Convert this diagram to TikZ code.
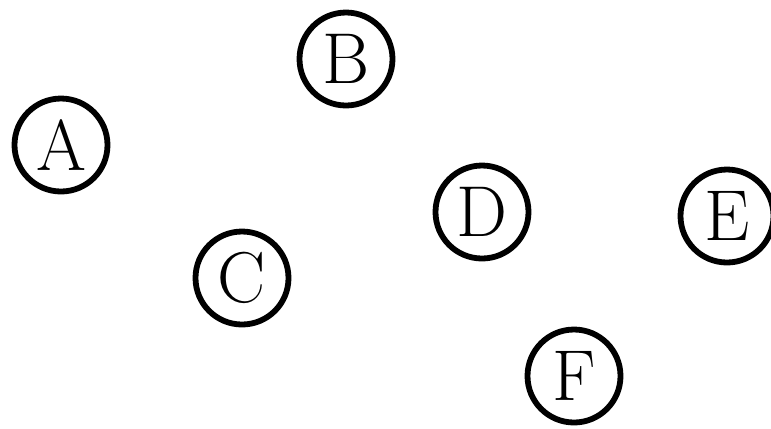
\documentclass[tikz,border=0pt]{standalone}
\usepackage{tikz}
\usetikzlibrary{positioning}

\begin{document}
\begin{tikzpicture}[vertex/.style={draw, circle, line width=3.3pt, minimum size=1.86cm, inner sep=0pt, font=\fontsize{41}{46}\selectfont}]
  \useasboundingbox (0,0) rectangle (15.42,-8.56);

  \node[vertex] (A) at (1.22,-2.90) {A};
  \node[vertex] (B) at (6.92,-1.18) {B};
  \node[vertex] (C) at (4.84,-5.56) {C};
  \node[vertex] (D) at (9.64,-4.24) {D};
  \node[vertex] (E) at (14.54,-4.32) {E};
  \node[vertex] (F) at (11.48,-7.52) {F};
\end{tikzpicture}
\end{document}
